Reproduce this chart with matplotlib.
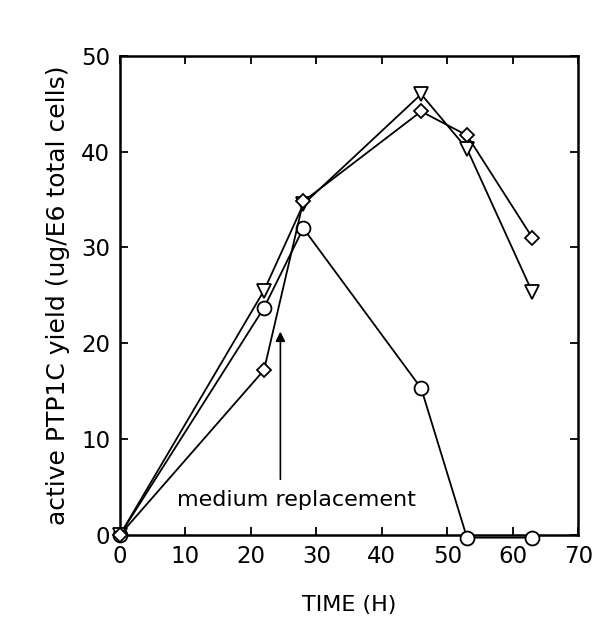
from matplotlib import pyplot as plt

time_h = [0, 22, 28, 46, 53, 63]
circle_yield = [0, 23.7, 32.0, 15.3, -0.3, -0.3]
triangle_yield = [0, 25.5, 34.5, 46.0, 40.3, 25.3]
diamond_yield = [0, 17.2, 34.8, 44.2, 41.7, 31.0]

x_ticks = [0, 10, 20, 30, 40, 50, 60, 70]
y_ticks = [0, 10, 20, 30, 40, 50]

fig = plt.figure(figsize=(6.03, 6.42), dpi=100)
ax = fig.add_axes([0.199, 0.167, 0.76, 0.746])

style = dict(color='black', linewidth=1.3, markerfacecolor='white',
             markeredgecolor='black', markeredgewidth=1.3, clip_on=False, zorder=3)
ax.plot(time_h, circle_yield, marker='o', markersize=10, **style)
ax.plot(time_h, triangle_yield, marker='v', markersize=10, **style)
ax.plot(time_h, diamond_yield, marker='D', markersize=7, **style)

# medium replacement arrow
ax.annotate('', xy=(24.5, 21.5), xytext=(24.5, 5.5),
            arrowprops=dict(arrowstyle='-|>', color='black', lw=1.2, mutation_scale=14))
ax.text(27, 2.6, 'medium replacement', ha='center', va='bottom', fontsize=16)

ax.set_xlim(0, 70)
ax.set_ylim(0, 50)
ax.set_xticks(x_ticks)
ax.set_yticks(y_ticks)
ax.tick_params(direction='in', top=True, right=True, length=6, width=1.3,
               labelsize=16.5, pad=7)
for s in ax.spines.values():
    s.set_linewidth(1.8)

ax.set_xlabel('TIME (H)', fontsize=16, labelpad=20)
ax.set_ylabel('active PTP1C yield (ug/E6 total cells)', fontsize=18, labelpad=8)

plt.savefig('out.png', dpi=100)
